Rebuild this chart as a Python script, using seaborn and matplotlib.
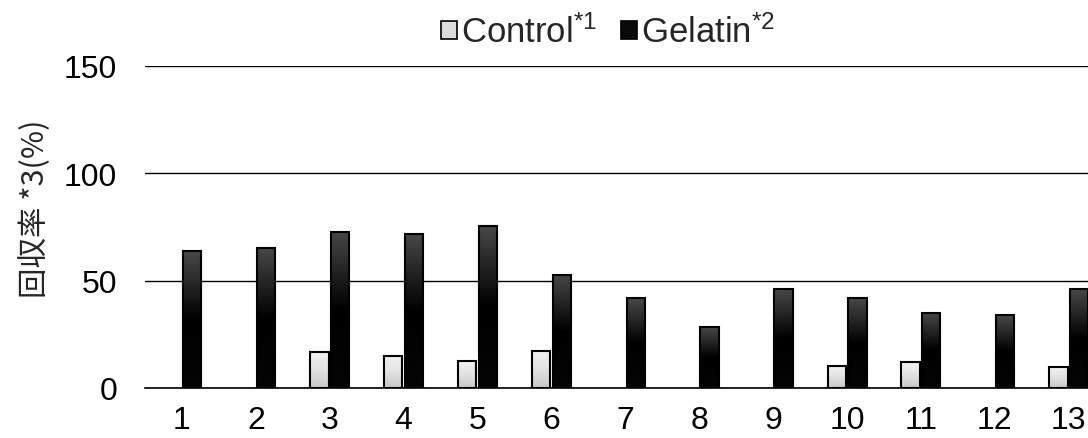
import numpy as np
import pandas as pd
import matplotlib
matplotlib.use("Agg")
import matplotlib.pyplot as plt
import seaborn as sns
from matplotlib.colors import LinearSegmentedColormap

categories = [str(i) for i in range(1, 14)]
control = [np.nan, np.nan, 16.8, 14.9, 12.6, 17.2, np.nan, np.nan, np.nan, 10.3, 12.1, np.nan, 9.8]
gelatin = [63.8, 65.2, 72.7, 71.8, 75.5, 52.7, 41.9, 28.4, 46.1, 41.9, 35.0, 34.0, 46.1]
series_names = ["Control", "Gelatin"]
legend_labels = ["Control$^{*1}$", "Gelatin$^{*2}$"]
y_ticks = [0, 50, 100, 150]
y_label = "回収率 *3(%)"

df = pd.DataFrame({
    "cat": categories * 2,
    "series": [series_names[0]] * 13 + [series_names[1]] * 13,
    "value": control + gelatin,
}).dropna()

sns.set_theme(style="white")
plt.rcParams['font.family'] = ['Liberation Sans', 'Noto Sans CJK JP', 'DejaVu Sans']
plt.rcParams['mathtext.fontset'] = 'custom'
plt.rcParams['mathtext.rm'] = 'Liberation Sans'
plt.rcParams['mathtext.it'] = 'Liberation Sans'

fig = plt.figure(figsize=(10.88, 4.39), dpi=100)
ax = fig.add_axes([145 / 1088, 1 - 389 / 439, 1 - 145 / 1088, (389 - 67) / 439])

sns.barplot(data=df, x="cat", y="value", hue="series", order=categories,
            hue_order=series_names, palette=["#dcdcdc", "#0a0a0a"],
            width=0.56, gap=0.12, edgecolor="black", linewidth=1.4,
            ax=ax, legend=True)

cmaps = {
    "c": LinearSegmentedColormap.from_list("c", ["#c8c8c8", "#e2e2e2", "#f2f2f2"]),
    "g": LinearSegmentedColormap.from_list("g", ["#050505", "#000000", "#484848"]),
}
grad = np.linspace(0, 1, 256).reshape(-1, 1)
for p in list(ax.patches):
    h = p.get_height()
    if not np.isfinite(h) or h <= 0:
        continue
    fc = p.get_facecolor()
    key = "c" if fc[0] > 0.5 else "g"
    x0, w = p.get_x(), p.get_width()
    im = ax.imshow(grad, cmap=cmaps[key], aspect="auto", origin="lower",
                   extent=[x0, x0 + w, 0, h], zorder=p.get_zorder() + 0.1)
    im.set_clip_path(p)
    ax.add_patch(plt.Rectangle((x0, 0), w, h, fill=False, edgecolor="black",
                               linewidth=1.5, zorder=p.get_zorder() + 0.2))

band = 1088 - 145
span = band / 73.9
ax.set_xlim(-0.5, -0.5 + span)
ax.set_ylim(0, 150)
ax.set_yticks(y_ticks)
ax.set_yticklabels([str(v) for v in y_ticks])
ax.yaxis.grid(True, color="black", linewidth=1.0)
ax.set_axisbelow(True)
for s in ["left", "right", "top"]:
    ax.spines[s].set_visible(False)
ax.spines["bottom"].set_color("black")
ax.spines["bottom"].set_linewidth(1.2)
ax.tick_params(axis="both", length=0, labelsize=23, colors="black")
ax.tick_params(axis="x", pad=12)
ax.tick_params(axis="y", pad=20)
ax.set_xlabel("")
ax.set_ylabel(y_label, fontsize=22, family=['Noto Sans CJK JP', 'DejaVu Sans'])
ax.yaxis.set_label_coords(-0.1, 0.56)

handles, _ = ax.get_legend_handles_labels()
ax.get_legend().remove()
for hd in handles:
    hd.set_linewidth(1.2)
fig.legend(handles, legend_labels, loc="center", bbox_to_anchor=(608 / 1088, 1 - 33 / 439),
           ncol=2, frameon=False, fontsize=25, handlelength=0.45, handleheight=0.45,
           handletextpad=0.12, columnspacing=0.7)

fig.savefig("out.png", dpi=100)
